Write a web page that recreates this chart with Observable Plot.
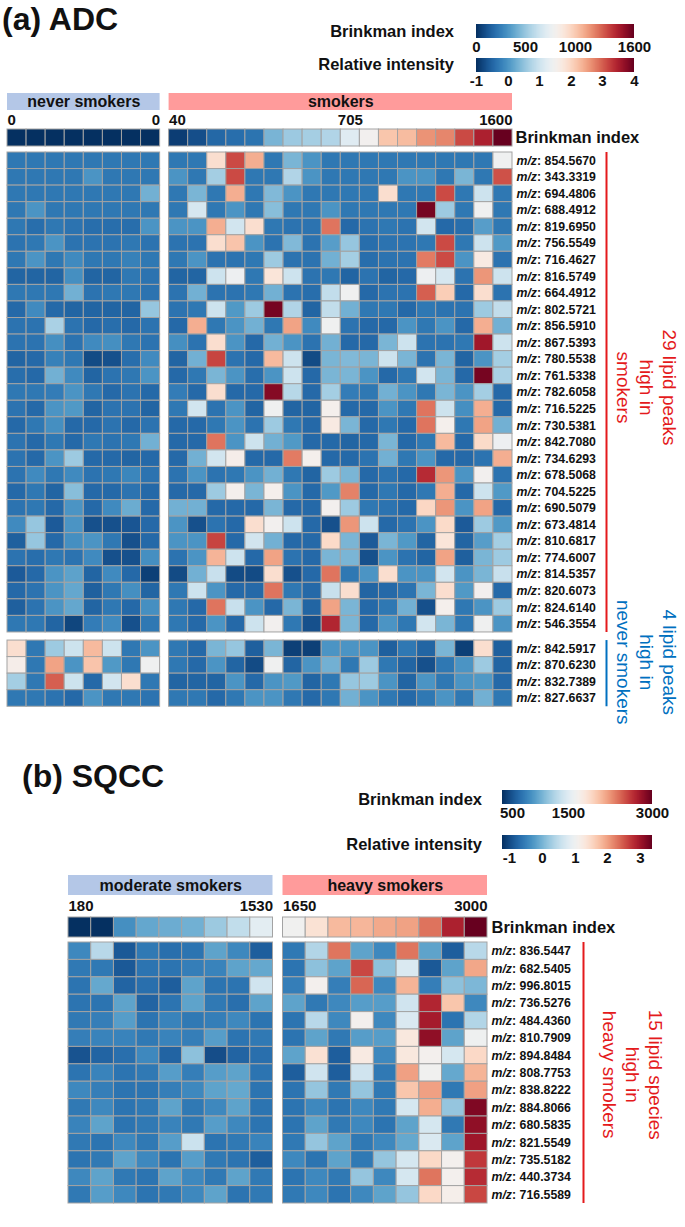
<!DOCTYPE html>
<html><head><meta charset="utf-8">
<script src="https://cdn.jsdelivr.net/npm/d3@7"></script>
<script src="https://cdn.jsdelivr.net/npm/@observablehq/plot@0.6"></script>
<style>
body{margin:0;background:#fff;}
#root{position:relative;width:685px;height:1227px;overflow:hidden;font-family:"Liberation Sans",Arial,sans-serif;color:#111;}
.t{position:absolute;white-space:nowrap;line-height:1;font-weight:bold;}
</style></head><body><div id="root"></div>
<script>
// ---------------- DATA ----------------
// Panel (a) ADC
const adcGroups = ["never smokers", "smokers"];
const adcBrinkNever = [0,0,0,0,0,0,0,0];
const adcBrinkSmokers = [40,90,170,190,210,430,510,530,560,705,800,1020,1050,1160,1190,1330,1440,1600];
const adcLabelsUp = ["854.5670","343.3319","694.4806","688.4912","819.6950","756.5549","716.4627","816.5749","664.4912","802.5721","856.5910","867.5393","780.5538","761.5338","782.6058","716.5225","730.5381","842.7080","734.6293","678.5068","704.5225","690.5079","673.4814","810.6817","774.6007","814.5357","820.6073","824.6140","546.3554"];
const adcLabelsDown = ["842.5917","870.6230","832.7389","827.6637"];
const adcNeverUp = [
[-0.3,-0.3,-0.3,-0.3,-0.3,-0.3,-0.3,-0.3],
[-0.3,-0.3,-0.3,-0.3,0,-0.3,-0.3,-0.3],
[-0.3,-0.3,-0.3,-0.3,-0.3,-0.3,-0.3,0.3],
[-0.3,0,-0.3,-0.3,-0.3,-0.3,-0.3,-0.3],
[-0.3,-0.4,-0.3,-0.35,-0.4,-0.4,-0.4,0],
[-0.35,-0.3,0,-0.35,-0.35,-0.35,-0.3,-0.35],
[-0.3,0,-0.3,-0.1,-0.3,-0.3,-0.2,-0.3],
[-0.5,-0.5,-0.5,-0.05,-0.5,-0.5,-0.3,-0.35],
[-0.3,-0.3,-0.3,0.3,-0.35,-0.3,-0.3,-0.35],
[-0.45,-0.1,-0.45,-0.5,-0.5,-0.5,-0.5,0.55],
[-0.35,-0.35,0.7,-0.35,-0.45,-0.4,-0.45,-0.35],
[-0.35,-0.35,-0.05,-0.35,-0.1,-0.05,-0.3,-0.35],
[-0.5,-0.45,-0.2,-0.3,-0.75,-0.7,-0.4,-0.1],
[-0.4,-0.45,0.3,-0.1,-0.5,-0.35,-0.3,0],
[-0.3,-0.3,-0.25,0,-0.3,-0.45,-0.35,-0.45],
[-0.35,-0.45,0,0.05,-0.5,-0.35,-0.35,-0.5],
[-0.45,-0.3,-0.05,-0.45,-0.45,-0.35,-0.45,-0.35],
[-0.35,-0.45,-0.3,-0.45,-0.3,-0.35,-0.3,0.3],
[-0.35,-0.45,0,0.6,-0.45,-0.45,-0.5,-0.45],
[-0.35,-0.1,-0.3,-0.1,-0.35,-0.3,-0.15,-0.35],
[-0.45,-0.3,-0.5,0.45,-0.45,-0.45,-0.35,-0.45],
[-0.35,-0.3,-0.45,0,-0.45,-0.1,0.25,-0.45],
[-0.1,0.55,-0.6,0,-0.7,-0.7,-0.65,-0.45],
[-0.55,0.55,-0.45,-0.05,0,-0.3,-0.7,-0.45],
[-0.35,-0.4,-0.3,-0.35,-0.1,-0.7,-0.7,-0.05],
[-0.6,-0.45,0,0.15,-0.5,-0.1,-0.45,-0.85],
[-0.45,-0.35,0,0.2,-0.55,-0.3,-0.05,-0.5],
[-0.55,-0.35,0,0.2,-0.5,-0.3,-0.45,-0.05],
[-0.3,-0.3,-0.5,-0.8,-0.25,-0.1,-0.7,-0.3]];
const adcSmokersUp = [
[-0.3,-0.3,1.9,3.15,2.4,-0.3,0.35,0,-0.3,-0.3,-0.3,-0.3,-0.3,-0.3,-0.3,-0.3,-0.3,1.45],
[0,-0.3,0.65,3.15,-0.3,-0.3,0.75,0,-0.3,-0.3,-0.3,-0.3,0,0,-0.3,0.35,-0.3,3.1],
[-0.3,0.35,-0.3,2.4,-0.3,0.4,0,-0.3,-0.3,-0.3,-0.3,1.9,-0.3,-0.3,3.15,-0.3,1.0,-0.3],
[-0.3,1.1,-0.3,0,-0.3,0.45,-0.3,-0.3,0,-0.3,-0.3,-0.3,-0.3,3.9,0.6,-0.3,1.45,-0.3],
[0,0,2.4,1.05,1.9,-0.3,-0.35,-0.35,2.85,-0.45,-0.35,-0.3,-0.35,1.05,-0.45,-0.4,0.1,-0.3],
[-0.35,-0.35,1.9,2.2,0,-0.35,0.4,-0.35,0.1,0.55,-0.4,-0.35,-0.35,-0.3,3.15,-0.3,1.0,0.05],
[-0.3,0,-0.35,-0.35,-0.3,0.6,-0.35,-0.35,0.3,0.65,-0.4,-0.35,-0.35,2.8,3.15,0,1.7,-0.35],
[-0.5,-0.5,1.0,1.4,-0.3,1.8,1.0,-0.35,-0.3,-0.5,-0.35,-0.5,-0.45,1.4,1.1,-0.35,2.6,1.0],
[-0.35,0.3,-0.35,-0.35,-0.3,0.3,-0.35,-0.4,0.9,1.45,-0.45,-0.35,-0.35,3.0,2.1,-0.45,1.9,-0.35],
[-0.35,-0.3,1.0,0.05,0.6,3.9,0.75,-0.5,0.9,0.3,-0.3,-0.3,-0.45,-0.3,-0.35,-0.35,0.6,0.9],
[-0.45,2.4,-0.3,0,0.3,-0.3,2.5,-0.1,1.45,-0.35,-0.45,-0.45,0,-0.3,0,-0.45,2.4,0.3],
[-0.05,-0.35,1.9,0,-0.45,0.3,0,-0.35,0.3,-0.45,-0.45,0.35,1.0,-0.35,-0.35,-0.3,3.6,1.0],
[-0.5,0.3,3.2,-0.35,-0.45,2.3,1.0,-0.75,0.35,0.4,0.35,1.0,0.35,-0.35,0.35,-0.5,0,0.65],
[-0.45,-0.3,0.35,0,-0.4,0,1.0,-0.45,0.35,0.35,0,-0.45,-0.3,1.05,0.35,-0.45,3.9,0.7],
[-0.25,-0.45,1.9,-0.45,-0.45,3.8,0.8,-0.45,0.65,-0.25,-0.3,0.3,0,-0.3,0.35,0,0.65,-0.45],
[-0.3,1.05,-0.35,0,-0.5,1.45,-0.5,-0.5,1.55,-0.45,-0.45,0,-0.3,2.85,1.0,-0.05,2.4,-0.45],
[-0.45,-0.45,-0.3,0,-0.35,0.6,-0.3,-0.45,1.7,0.35,-0.45,-0.3,-0.45,2.85,1.55,-0.3,2.5,0.3],
[-0.45,-0.45,2.85,0,1.0,0.3,0.05,-0.45,-0.45,-0.5,-0.45,0.35,-0.45,-0.3,2.3,-0.45,1.95,1.4],
[-0.45,0.3,1.05,1.6,-0.45,-0.45,2.8,1.55,-0.45,-0.45,-0.35,0.3,-0.3,0,-0.45,-0.45,-0.35,2.4],
[-0.35,0,-0.35,-0.3,0,0.3,-0.3,-0.5,0.6,0.35,-0.45,-0.35,-0.45,3.4,2.6,0,1.5,-0.35],
[-0.45,-0.45,0.6,1.55,0.35,1.55,0,-0.45,0.05,2.75,-0.45,-0.3,-0.45,-0.3,2.4,-0.45,1.0,0.05],
[0.3,0.3,-0.45,-0.45,-0.45,0.35,-0.45,-0.45,1.5,0.6,-0.3,-0.35,-0.45,2.0,2.6,0,2.5,-0.45],
[0,-0.7,-0.35,-0.45,1.9,1.5,1.0,-0.45,-0.7,2.6,1.0,-0.45,-0.35,0,1.95,-0.6,0.6,0.05],
[0,0,3.2,-0.45,1.05,0.3,-0.45,-0.45,1.95,0.35,-0.6,0.35,0.05,-0.5,1.8,-0.5,0.1,0.65],
[-0.35,0,2.35,1.0,-0.45,2.5,-0.35,-0.45,0.35,0.35,-0.7,0,-0.35,-0.5,2.5,-0.55,0.35,0.6],
[-0.75,0.3,0.95,-0.75,-0.75,1.9,-0.7,-0.45,2.85,-0.3,0,1.9,0,0,1.05,0,0.35,0.95],
[-0.3,1.0,0,-0.45,-0.45,2.85,-0.3,-0.45,0.95,1.9,-0.5,-0.45,-0.35,0.35,1.9,0.05,1.5,-0.45],
[-0.3,-0.45,2.85,0.95,0,-0.45,0.35,-0.5,2.5,0.35,-0.45,-0.3,0.3,-0.7,1.55,-0.3,0,0.6],
[-0.3,-0.45,0,-0.45,1.0,1.5,-0.3,-0.7,3.45,0.35,-0.45,0,-0.3,1.05,0.35,-0.3,1.45,0]];
const adcNeverDown = [
[1.9,-0.3,0.6,1.0,2.3,1.0,-0.3,0],
[1.6,-0.3,2.5,0,2.2,0.05,-0.3,1.45],
[0.65,-0.3,3.0,1.0,-0.45,1.05,1.9,-0.3],
[-0.3,-0.3,-0.35,-0.45,0,-0.3,-0.3,-0.35]];
const adcSmokersDown = [
[-0.3,-0.45,0.35,0.55,-0.55,0.35,-0.85,-0.85,0,0,0,-0.55,-0.3,-0.5,0.35,-0.85,1.9,-0.55],
[-0.3,-0.45,0,-0.5,-0.75,1.45,-0.5,0,0.3,-0.3,0.6,-0.3,-0.5,-0.7,-0.3,0,0.6,-0.5],
[-0.5,-0.5,-0.5,0,-0.45,0,0.05,-0.5,-0.3,0.55,0.6,0,-0.5,0,-0.3,0,0.05,-0.45],
[-0.3,-0.3,-0.45,-0.3,0,0,-0.3,-0.45,-0.3,0.3,0,-0.3,-0.45,-0.3,0,-0.3,0.3,-0.3]];

// Panel (b) SQCC
const sqccGroups = ["moderate smokers", "heavy smokers"];
const sqccBrinkModerate = [180,250,837,970,1000,1020,1180,1340,1530];
const sqccBrinkHeavy = [1650,1850,2090,2110,2170,2200,2390,2730,3000];
const sqccLabels = ["836.5447","682.5405","996.8015","736.5276","484.4360","810.7909","894.8484","808.7753","838.8222","884.8066","680.5835","821.5549","735.5182","440.3734","716.5589"];
const sqccModerate = [
[-0.4,0.45,-0.85,-0.55,-0.65,-0.6,-0.15,-0.4,-0.8],
[-0.55,-0.55,-0.85,-0.6,-0.6,-0.5,-0.45,-0.15,-0.1],
[-0.6,-0.1,-0.75,-0.65,-0.8,-0.15,-0.6,-0.6,0.65],
[-0.6,-0.6,-0.15,-0.75,-0.6,-0.15,-0.55,-0.65,-0.15],
[-0.55,-0.5,-0.2,-0.6,-0.45,-0.55,-0.5,-0.4,-0.6],
[-0.5,-0.45,-0.45,-0.55,-0.45,-0.5,-0.2,-0.6,-0.55],
[-0.9,-0.75,-0.65,-0.4,-0.75,0.15,-0.95,-0.75,-0.65],
[-0.6,-0.45,-0.6,-0.55,-0.2,-0.5,-0.2,-0.15,-0.6],
[-0.4,-0.5,-0.6,-0.6,-0.5,-0.4,-0.15,-0.1,-0.6],
[-0.55,-0.4,-0.6,-0.55,-0.15,-0.55,-0.4,-0.15,-0.6],
[-0.45,-0.15,-0.6,-0.55,-0.45,-0.55,-0.2,-0.4,-0.6],
[-0.55,-0.6,-0.4,-0.55,-0.2,0.6,-0.6,-0.55,-0.45],
[-0.6,-0.55,-0.15,-0.4,-0.6,-0.2,-0.55,-0.6,-0.8],
[-0.4,-0.15,-0.55,-0.6,-0.15,-0.4,-0.55,-0.15,-0.55],
[-0.55,-0.2,-0.4,-0.6,-0.55,-0.4,-0.15,-0.6,-0.55]];
const sqccHeavy = [
[-0.55,0.4,2.3,-0.15,-0.4,2.3,-0.15,-0.8,0.45],
[-0.6,0.15,-0.15,2.6,0.15,0.75,-0.85,-0.15,1.95],
[-0.5,1.1,-0.5,2.4,-0.4,1.85,-0.5,0.15,0.05],
[-0.15,-0.55,-0.4,-0.2,-0.2,0.65,2.85,1.7,-0.4],
[-0.6,0.45,-0.4,1.1,-0.4,0.75,2.95,-0.6,0.4],
[-0.6,-0.15,-0.55,-0.2,-0.2,1.3,3.1,-0.15,1.0],
[-0.15,1.4,-0.8,1.25,-0.4,1.3,1.1,0.7,1.5],
[-0.8,0.65,-0.8,0.65,-0.55,2.0,1.05,-0.1,1.85],
[-0.6,0.2,-0.55,0.2,-0.55,1.7,2.0,-0.55,2.0],
[-0.6,-0.4,-0.6,-0.4,-0.55,0.7,1.9,0.2,3.2],
[-0.6,-0.15,-0.55,-0.4,-0.6,-0.15,0.7,-0.55,3.1],
[-0.55,0.2,-0.15,-0.55,-0.4,-0.1,0.75,-0.15,3.0],
[-0.4,-0.6,-0.15,-0.55,0.2,0.7,1.5,1.1,2.7],
[-0.6,-0.4,-0.55,0.2,-0.4,0.7,2.3,1.1,2.8],
[-0.55,-0.4,-0.6,-0.4,-0.15,0.2,1.5,1.15,2.6]];

// Legend settings
const adcBrinkDomain = [0,1600], adcBrinkTicks = [0,500,1000,1600];
const adcIntDomain = [-1,4], adcIntTicks = [-1,0,1,2,3,4];
const sqccBrinkDomain = [330,3000], sqccBrinkTicks = [500,1500,3000];
const sqccIntDomain = [-1.2,3.35], sqccIntTicks = [-1,0,1,2,3];

// ---------------- RENDER ----------------
const FONT = '"Liberation Sans", Arial, sans-serif';
const RED = "#e41a1c", BLUE = "#0070c0", GRID = "#a3a3a3";
const root = document.getElementById("root");
function place(el, left, top){ el.style.position="absolute"; el.style.left=left+"px"; el.style.top=top+"px"; root.appendChild(el); return el; }
function text(str, size, left, top, opts={}){
  const d=document.createElement("div"); d.className="t"; d.textContent=str; d.style.fontSize=size+"px";
  if(opts.right!=null){ d.style.width="320px"; d.style.textAlign="right"; left=opts.right-320; }
  return place(d,left,top);
}
function colorOpt(domain){ return {type:"linear", scheme:"rdbu", reverse:true, domain, clamp:true}; }
function legend(domain, ticks, left, top, barW, barH){
  const m=22;
  const lg = Plot.legend({color: colorOpt(domain), label:null, ticks, tickFormat:d=>String(d), tickSize:0,
    width: barW+2*m, height: barH+20, marginLeft:m, marginRight:m, marginTop:0, marginBottom:20,
    style:{fontFamily:FONT, fontSize:"15px", fontWeight:"bold", color:"#111", background:"transparent", overflow:"visible"}});
  lg.querySelectorAll(".tick line").forEach(n=>n.remove());
  lg.querySelectorAll(".tick text").forEach(n=>{n.setAttribute("font-size","15"); n.style.fontWeight="bold"; n.style.fontFamily=FONT; n.setAttribute("fill","#111");});
  place(lg, left-m, top);
}
function cells(matrix, colStart, rowStart){
  const out=[];
  matrix.forEach((row,r)=>row.forEach((v,c)=>out.push({x1:colStart+c, x2:colStart+c+1, y1:rowStart+r, y2:rowStart+r+1, v})));
  return out;
}
function rowCells(values, colStart){ return values.map((v,c)=>({x1:colStart+c, x2:colStart+c+1, v})); }

function header(cfg){
  const blocks = cfg.blocks;
  const brink = blocks.flatMap(b=>rowCells(b.brink, b.start));
  const ticks = blocks.flatMap(b=>{
    const t=[{x:b.start, label:String(b.brink[0]), anchor:"start"},{x:b.start+b.brink.length, label:String(b.brink[b.brink.length-1]), anchor:"end"}];
    if(b.mid!=null) t.push({x:b.start+b.mid+0.5, label:String(b.brink[b.mid]), anchor:"middle"});
    return t;
  });
  const xEnd = blocks[blocks.length-1].start + blocks[blocks.length-1].brink.length;
  return Plot.plot({
    width:685, height:cfg.height, margin:0,
    x:{type:"linear", domain:cfg.xDomain, range:cfg.xRange, axis:null},
    y:{type:"band", domain:["group","ticks","brink"], range:cfg.yRange, paddingInner:0.05, paddingOuter:0, axis:null},
    color: colorOpt(cfg.brinkDomain),
    style:{fontFamily:FONT, background:"transparent", overflow:"visible", color:"#111"},
    marks:[
      ...blocks.map(b=>Plot.barX([b], {x1:d=>d.start, x2:d=>d.start+d.brink.length, y:()=>"group", fill:b.bg})),
      Plot.text(blocks, {x:d=>d.start+d.brink.length/2, y:()=>"group", text:"name", fontSize:16, fontWeight:"bold", fill:"#111"}),
      ...["start","middle","end"].map(a=>Plot.text(ticks.filter(t=>t.anchor===a), {x:"x", y:()=>"ticks", text:"label", textAnchor:a, fontSize:15, fontWeight:"bold", fill:"#111"})),
      Plot.barX(brink, {x1:"x1", x2:"x2", y:()=>"brink", fill:"v", stroke:GRID, strokeWidth:1}),
      Plot.text(["Brinkman index"], {x:()=>xEnd, y:()=>"brink", text:d=>d, dx:cfg.brinkDx, textAnchor:"start", fontSize:16.5, fontWeight:"bold", fill:"#111"})
    ]
  });
}

function heat(cfg){
  const all = cfg.parts.flatMap(p=>cells(p.matrix, p.col, p.row));
  const labs = cfg.labels;
  const marks = [
    Plot.rect(all, {x1:"x1", x2:"x2", y1:"y1", y2:"y2", fill:"v", stroke:GRID, strokeWidth:1}),
    Plot.text(labs, {x:()=>cfg.xEnd, y:"y", text:()=>"m/z", dx:cfg.labDx, textAnchor:"start", fontSize:12.3, fontWeight:"bold", fontStyle:"italic", fill:"#111"}),
    Plot.text(labs, {x:()=>cfg.xEnd, y:"y", text:d=>": "+d.label, dx:cfg.labDx+20.6, textAnchor:"start", fontSize:12.3, fontWeight:"bold", fill:"#111"})
  ];
  cfg.notes.forEach(n=>{
    marks.push(Plot.ruleX([n], {x:()=>cfg.xEnd, y1:"y1", y2:"y2", dx:cfg.ruleDx, stroke:n.color, strokeWidth:2}));
    marks.push(Plot.text([n], {x:()=>cfg.xEnd, y:"yc", text:"text", dx:cfg.noteDx, rotate:90, fill:n.color, fontSize:19, lineHeight:1.22, textAnchor:"middle", lineAnchor:"middle"}));
  });
  return Plot.plot({
    width:685, height:cfg.height, margin:0,
    x:{type:"linear", domain:cfg.xDomain, range:cfg.xRange, axis:null},
    y:{type:"linear", domain:cfg.yDomain, range:cfg.yRange, axis:null},
    color: colorOpt(cfg.intDomain),
    style:{fontFamily:FONT, background:"transparent", overflow:"visible", color:"#111"},
    marks
  });
}

// ---- Panel (a) ----
text("(a) ADC", 32, 2, 3);
text("Brinkman index", 16.5, 0, 23, {right:454});
text("Relative intensity", 16.5, 0, 56, {right:454});
legend(adcBrinkDomain, adcBrinkTicks, 476, 24, 158, 14);
legend(adcIntDomain, adcIntTicks, 476, 58, 158, 14);

const aGap = 0.47;
const aX = {xDomain:[0, 8+aGap+18], xRange:[7, 512]};
place(header({...aX, height:64, yRange:[4,60], brinkDomain:adcBrinkDomain, brinkDx:3,
  blocks:[{name:adcGroups[0], start:0, brink:adcBrinkNever, bg:"#b4c7e7"},
          {name:adcGroups[1], start:8+aGap, brink:adcBrinkSmokers, bg:"#ff9b9b", mid:9}]}), 0, 88);

const aRow = 16.55, aRowGap = 0.49, aUp = adcLabelsUp.length;
place(heat({...aX, height:612, yDomain:[0, 612/aRow], yRange:[0, 612], intDomain:adcIntDomain, xEnd:8+aGap+18,
  labDx:4, ruleDx:94, noteDx:135,
  parts:[{matrix:adcNeverUp, col:0, row:0},{matrix:adcSmokersUp, col:8+aGap, row:0},
         {matrix:adcNeverDown, col:0, row:aUp+aRowGap},{matrix:adcSmokersDown, col:8+aGap, row:aUp+aRowGap}],
  labels:[...adcLabelsUp.map((l,i)=>({label:l, y:i+0.5})), ...adcLabelsDown.map((l,i)=>({label:l, y:aUp+aRowGap+i+0.5}))],
  notes:[{text:"29 lipid peaks\nhigh in\nsmokers", y1:0, y2:aUp, yc:14.2, color:RED},
         {text:"4 lipid peaks\nhigh in\nnever smokers", y1:aUp+aRowGap, y2:aUp+aRowGap+adcLabelsDown.length, yc:30.8, color:BLUE}]
}), 0, 152);

// ---- Panel (b) ----
text("(b) SQCC", 32, 22, 760);
text("Brinkman index", 16.5, 0, 791, {right:482});
text("Relative intensity", 16.5, 0, 836, {right:482});
legend(sqccBrinkDomain, sqccBrinkTicks, 502, 790, 150, 14);
legend(sqccIntDomain, sqccIntTicks, 502, 835, 150, 14);

const bGap = 0.44;
const bX = {xDomain:[0, 9+bGap+9], xRange:[68, 487]};
place(header({...bX, height:72, yRange:[7,69], brinkDomain:sqccBrinkDomain, brinkDx:4,
  blocks:[{name:sqccGroups[0], start:0, brink:sqccBrinkModerate, bg:"#b4c7e7"},
          {name:sqccGroups[1], start:9+bGap, brink:sqccBrinkHeavy, bg:"#ff9b9b"}]}), 0, 868);

const bRow = 17.4, bN = sqccLabels.length;
place(heat({...bX, height:287, yDomain:[0,bN], yRange:[2, 2+bN*bRow], intDomain:sqccIntDomain, xEnd:9+bGap+9,
  labDx:4, ruleDx:96, noteDx:146,
  parts:[{matrix:sqccModerate, col:0, row:0},{matrix:sqccHeavy, col:9+bGap, row:0}],
  labels:sqccLabels.map((l,i)=>({label:l, y:i+0.5})),
  notes:[{text:"15 lipid species\nhigh in\nheavy smokers", y1:0, y2:bN, yc:7.6, color:RED}]
}), 0, 940);
</script></body></html>
